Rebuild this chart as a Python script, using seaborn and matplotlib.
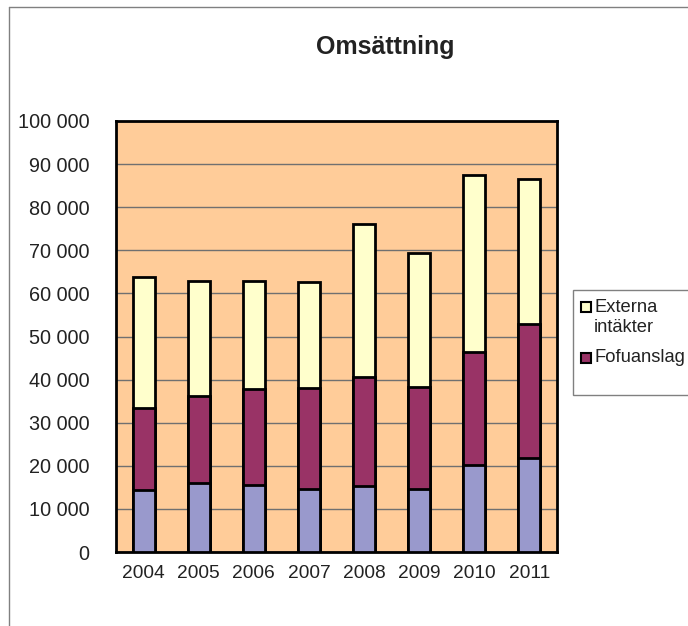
import numpy as np
import pandas as pd
import matplotlib
matplotlib.use('Agg')
import matplotlib.pyplot as plt
from matplotlib.patches import Rectangle
from matplotlib.lines import Line2D
import seaborn as sns

# ── Data ─────────────────────────────────────────────────────────────
years      = ['2004', '2005', '2006', '2007', '2008', '2009', '2010', '2011']
bas        = [14300, 15900, 15600, 14600, 15300, 14600, 20100, 21800]
fofuanslag = [19100, 20300, 22200, 23400, 25300, 23700, 26200, 31200]
externa    = [30400, 26700, 25100, 24700, 35600, 31100, 41200, 33600]

y_ticks = [0, 10000, 20000, 30000, 40000, 50000, 60000, 70000, 80000, 90000, 100000]

c_bas  = '#9999CC'
c_fofu = '#993366'
c_ext  = '#FFFFCC'
c_bg   = '#FFCC99'

df = pd.DataFrame({'year': years, 'bas': bas, 'fofu': fofuanslag, 'ext': externa})
df['lvl1'] = df['bas']
df['lvl2'] = df['bas'] + df['fofu']
df['lvl3'] = df['lvl2'] + df['ext']

sns.set_theme(style='white')
plt.rcParams['font.family'] = ['Liberation Sans', 'DejaVu Sans']

W, H = 688, 626
fig = plt.figure(figsize=(W/100, H/100), dpi=100)
ax = fig.add_axes([116/W, 1-552/H, (557-116)/W, (552-121)/H])
ax.set_facecolor(c_bg)

# stacked bars: draw cumulative totals, tallest first
for col, colr in [('lvl3', c_ext), ('lvl2', c_fofu), ('lvl1', c_bas)]:
    sns.barplot(data=df, x='year', y=col, color=colr, saturation=1,
                width=0.4, edgecolor='black', linewidth=2, ax=ax, zorder=3)

ax.set_xlim(-0.5, len(years) - 0.5)
ax.set_ylim(0, 100000)
ax.set_yticks(y_ticks)
ax.set_yticklabels([f"{v:,}".replace(',', ' ') for v in y_ticks], fontsize=14.3)
ax.set_xticks(range(len(years)))
ax.set_xticklabels(years, fontsize=13.8)
ax.set_xticks(np.arange(-0.5, len(years)), minor=True)
ax.tick_params(axis='x', which='major', length=0, pad=9, colors='#222222')
ax.tick_params(axis='x', which='minor', length=6, width=1, color='#555555', direction='out')
ax.tick_params(axis='y', which='major', length=6, width=1, color='#555555',
               direction='out', pad=13, labelcolor='#222222')
ax.set_xlabel('')
ax.set_ylabel('')
ax.yaxis.grid(True, color='#707070', linewidth=1)
ax.set_axisbelow(True)
for s in ax.spines.values():
    s.set_color('black')
    s.set_linewidth(2)

fig.text(385/W, 1-47/H, 'Omsättning', ha='center', va='center',
         fontsize=18, fontweight='bold', color='#222222')

# ── Legend (only two series are listed) ──────────────────────────────
fig.add_artist(Rectangle((573/W, 1-395/H), 130/W, 105/H, transform=fig.transFigure,
                         facecolor='white', edgecolor='#808080', linewidth=1))
legend_items = [(c_ext, ['Externa', 'intäkter'], 307),
                (c_fofu, ['Fofuanslag'], 358)]
for colr, lines, yc in legend_items:
    fig.add_artist(Rectangle((581/W, 1-(yc+5)/H), 10/W, 10/H, transform=fig.transFigure,
                             facecolor=colr, edgecolor='black', linewidth=1.5))
    for i, line in enumerate(lines):
        fig.text(594/W, 1-(yc+20*i)/H, line, ha='left', va='center',
                 fontsize=13.2, color='#222222')

# outer chart border (right and bottom fall outside the picture)
fig.add_artist(Line2D([9/W, 1.0], [1-7/H, 1-7/H], transform=fig.transFigure,
                      color='#808080', linewidth=1))
fig.add_artist(Line2D([9/W, 9/W], [0.0, 1-7/H], transform=fig.transFigure,
                      color='#808080', linewidth=1))

fig.savefig('out.png', dpi=100)
